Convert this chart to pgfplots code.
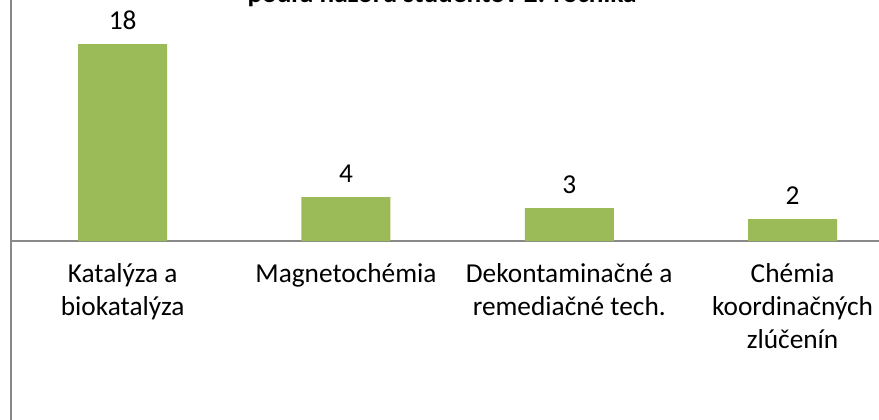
\documentclass[border=0pt]{standalone}
\usepackage{pgfplots}
\pgfplotsset{compat=1.18}
\usepackage{fontspec}
\setmainfont{Carlito}
\definecolor{barc}{HTML}{9BBB59}
\definecolor{axc}{HTML}{898989}
\begin{document}
\begin{tikzpicture}
\begin{axis}[
  scale only axis, width=651pt, height=315pt,
  xmin=-0.5, xmax=3.387, ymin=-16.36, ymax=22.03,
  axis x line=middle, axis y line=left,
  axis line style={-, axc, line width=1.2pt},
  ytick=\empty,
  xtick=data,
  xticklabels={{Katalýza a\\biokatalýza},{Magnetochémia},{Dekontaminačné a\\remediačné tech.},{Chémia\\koordinačných\\zlúčenín}},
  major tick length=0pt,
  xticklabel style={align=center, anchor=north, yshift=-13pt, font=\fontsize{20.5}{25}\selectfont},
  ybar, bar width=66.75pt,
  nodes near coords,
  /pgf/number format/assume math mode=true,
  every node near coord/.append style={font=\fontsize{20.5}{21.75}\selectfont, inner sep=0pt, yshift=10.5pt},
  clip=false,
]
\addplot[fill=barc, draw=none] coordinates {(0,18) (1,4) (2,3) (3,2)};
\node[anchor=base, font=\bfseries\fontsize{20.5}{24}\selectfont] at (axis cs:1.43,21.76) {podľa názoru študentov 2. ročníka};
\coordinate (bl) at (rel axis cs:0,0);
\coordinate (tr) at (rel axis cs:1,1);
\end{axis}
\pgfresetboundingbox
\path[use as bounding box] ([xshift=-8.25pt]bl) rectangle (tr);
\end{tikzpicture}
\end{document}
